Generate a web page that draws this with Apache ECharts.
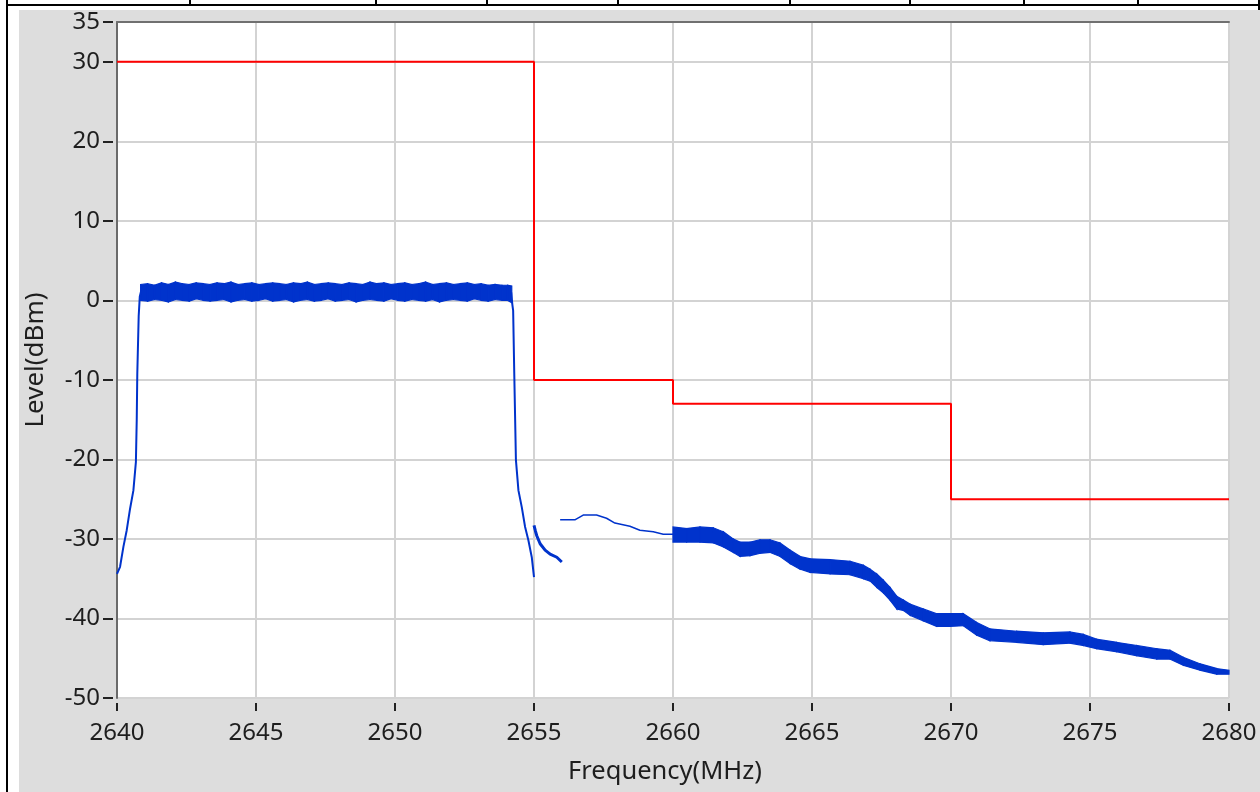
<!DOCTYPE html>
<html><head><meta charset="utf-8">
<script src="https://cdn.jsdelivr.net/npm/echarts@6/dist/echarts.min.js"></script>
<style>
html,body{margin:0;padding:0;background:#fff;}
#wrap{position:relative;width:1260px;height:792px;overflow:hidden;background:#fff;}
#panel{position:absolute;left:19px;top:10px;width:1241px;height:782px;background:#dddddd;}
.bl{position:absolute;background:#000;}
#chart{position:absolute;left:0;top:0;width:1260px;height:792px;}
</style></head><body>
<div id="wrap">
<div id="panel"></div>
<div class="bl" style="left:6px;top:0;width:2px;height:792px"></div>
<div class="bl" style="left:6px;top:4px;width:1254px;height:2px"></div>
<div class="bl" style="left:189px;top:0;width:2px;height:5px"></div>
<div class="bl" style="left:375px;top:0;width:2px;height:5px"></div>
<div class="bl" style="left:486px;top:0;width:2px;height:5px"></div>
<div class="bl" style="left:617px;top:0;width:2px;height:5px"></div>
<div class="bl" style="left:789px;top:0;width:2px;height:5px"></div>
<div class="bl" style="left:909px;top:0;width:2px;height:5px"></div>
<div class="bl" style="left:1023px;top:0;width:2px;height:5px"></div>
<div class="bl" style="left:1137px;top:0;width:2px;height:5px"></div>
<div class="bl" style="left:1258px;top:0;width:2px;height:10px"></div>
<div id="chart"></div>
</div>
<script>
// Limit mask (red)
var maskFreq  = [2640, 2655, 2655, 2660, 2660, 2670, 2670, 2680];
var maskLevel = [30, 30, -10, -10, -13, -13, -25, -25];

// Spectrum: left rising edge
var rampFreq  = [2640.0, 2640.11, 2640.23, 2640.35, 2640.47, 2640.59, 2640.68, 2640.71, 2640.73, 2640.78, 2640.82, 2640.87];
var rampLevel = [-34.4, -33.5, -31.0, -28.9, -26.2, -23.9, -20.3, -15.0, -9.2, -2.0, 0.5, 1.2];

// Spectrum: in-band plateau (noise envelope)
var plateauFreq = [2640.85, 2641.1, 2641.35, 2641.6, 2641.85, 2642.1, 2642.35, 2642.6, 2642.85, 2643.1,
  2643.35, 2643.6, 2643.85, 2644.1, 2644.35, 2644.6, 2644.85, 2645.1, 2645.35, 2645.6,
  2645.85, 2646.1, 2646.35, 2646.6, 2646.85, 2647.1, 2647.35, 2647.6, 2647.85, 2648.1,
  2648.35, 2648.6, 2648.85, 2649.1, 2649.35, 2649.6, 2649.85, 2650.1, 2650.35, 2650.6,
  2650.85, 2651.1, 2651.35, 2651.6, 2651.85, 2652.1, 2652.35, 2652.6, 2652.85, 2653.1,
  2653.35, 2653.6, 2653.85, 2654.05, 2654.2];
var plateauHigh = [2.0, 2.1, 1.9, 2.2, 2.0, 2.3, 2.1, 2.0, 2.2, 2.1,
  2.0, 2.2, 2.1, 2.3, 2.0, 2.1, 2.2, 2.0, 2.1, 2.2,
  2.1, 2.0, 2.2, 2.1, 2.3, 2.0, 2.1, 2.2, 2.1, 2.0,
  2.2, 2.1, 2.0, 2.3, 2.1, 2.2, 2.0, 2.1, 2.2, 2.0,
  2.1, 2.3, 2.0, 2.1, 2.2, 2.0, 2.1, 2.2, 2.0, 2.1,
  1.9, 2.0, 1.9, 1.9, 1.8];
var plateauLow = [0.0, -0.1, 0.1, 0.0, -0.2, 0.1, 0.0, -0.1, 0.2, 0.0,
  -0.1, 0.0, 0.1, -0.2, 0.0, 0.1, -0.1, 0.0, 0.2, -0.1,
  0.0, 0.1, -0.2, 0.0, 0.1, -0.1, 0.0, 0.2, -0.1, 0.0,
  0.1, -0.2, 0.0, 0.1, 0.0, -0.1, 0.2, 0.0, -0.1, 0.1,
  0.0, -0.1, 0.1, -0.2, 0.0, 0.1, 0.0, -0.1, 0.2, 0.0,
  -0.1, 0.1, 0.0, 0.0, -0.3];

// Spectrum: right falling edge
var dropFreq  = [2654.18, 2654.22, 2654.25, 2654.29, 2654.35, 2654.44, 2654.56, 2654.68, 2654.80, 2654.92, 2655.0];
var dropLevel = [1.0, -0.5, -1.3, -9.2, -20.1, -23.9, -26.0, -28.5, -30.2, -32.3, -34.8];

// Spectrum: 2655-2656 segment
var seg2Freq  = [2655.0, 2655.05, 2655.10, 2655.22, 2655.40, 2655.58, 2655.82, 2656.0];
var seg2Level = [-28.3, -29.0, -29.6, -30.6, -31.4, -31.9, -32.3, -32.9];

// Spectrum: 2656-2660 segment
var seg3Freq  = [2655.94, 2656.47, 2656.77, 2657.25, 2657.61, 2657.91, 2658.45, 2658.81, 2659.29, 2659.65, 2660.0];
var seg3Level = [-27.6, -27.6, -27.0, -27.0, -27.4, -28.0, -28.4, -28.9, -29.1, -29.4, -29.4];

// Spectrum: 2660-2680 band (envelope)
var bandFreq = [2660.0, 2660.49, 2660.97, 2661.45, 2661.81, 2662.17, 2662.41, 2662.77, 2663.13, 2663.49,
  2663.85, 2664.21, 2664.57, 2664.93, 2665.65, 2666.37, 2666.85, 2667.09, 2667.33, 2667.57,
  2667.81, 2668.05, 2668.29, 2668.53, 2669.0, 2669.48, 2669.96, 2670.44, 2670.92, 2671.40,
  2672.36, 2673.32, 2674.28, 2674.76, 2675.24, 2675.96, 2676.68, 2677.40, 2677.88, 2678.36,
  2678.96, 2679.56, 2680.0];
var bandHigh = [-28.5, -28.7, -28.5, -28.6, -29.1, -30.0, -30.4, -30.4, -30.1, -30.1,
  -30.5, -31.4, -32.2, -32.5, -32.6, -32.8, -33.3, -33.8, -34.4, -35.2,
  -36.1, -37.2, -37.7, -38.2, -38.8, -39.4, -39.4, -39.4, -40.5, -41.3,
  -41.6, -41.8, -41.7, -42.0, -42.6, -43.0, -43.4, -43.8, -44.0, -44.9,
  -45.7, -46.3, -46.5];
var bandLow = [-30.4, -30.4, -30.4, -30.5, -31.0, -31.7, -32.2, -32.1, -31.8, -31.7,
  -32.2, -33.1, -33.8, -34.2, -34.4, -34.5, -35.0, -35.3, -36.1, -36.8,
  -37.7, -38.8, -39.0, -39.6, -40.3, -41.0, -41.0, -40.9, -42.1, -42.8,
  -43.0, -43.3, -43.1, -43.4, -43.8, -44.2, -44.7, -45.1, -45.1, -45.9,
  -46.5, -47.0, -47.0];

var xMin = 2640, xMax = 2680, xStep = 5;
var yMin = -50, yMax = 35, yStep = 10;

var BLUE = '#0033cc';
var FONT = 'Noto Sans';
var TXT = '#1e1e1e';

function zip(a, b) { return a.map(function (v, i) { return [v, b[i]]; }); }
// segments of an envelope: [f1, lo1, hi1, f2, lo2, hi2]
function segs(f, lo, hi) {
  var out = [];
  for (var i = 0; i < f.length - 1; i++) out.push([f[i], lo[i], hi[i], f[i + 1], lo[i + 1], hi[i + 1]]);
  return out;
}
function renderBand(params, api) {
  var a = api.coord([api.value(0), api.value(1)]);
  var b = api.coord([api.value(0), api.value(2)]);
  var c = api.coord([api.value(3), api.value(5)]);
  var d = api.coord([api.value(3), api.value(4)]);
  return { type: 'polygon', shape: { points: [a, b, c, d] },
    style: { fill: BLUE, stroke: BLUE, lineWidth: 1.2 } };
}
function band(f, lo, hi) {
  return { type: 'custom', renderItem: renderBand, data: segs(f, lo, hi),
    encode: { x: [0, 3], y: [1, 2, 4, 5] }, z: 3, silent: true };
}
function thin(data, w) {
  return { type: 'line', data: data, symbol: 'none', showSymbol: false,
    lineStyle: { color: BLUE, width: w }, z: 3 };
}
var numFmt = function (v) { return String(v); };

var chart = echarts.init(document.getElementById('chart'), null, { renderer: 'canvas' });
chart.setOption({
  animation: false,
  backgroundColor: 'transparent',
  grid: { left: 117, right: 31, top: 22, bottom: 94, show: true, backgroundColor: '#ffffff', borderWidth: 0 },
  xAxis: [{
    type: 'value', min: xMin, max: xMax, interval: xStep, offset: 5,
    axisLine: { show: false, onZero: false },
    axisTick: { show: true, length: 8, lineStyle: { color: '#222', width: 2 } },
    axisLabel: { fontSize: 24, color: TXT, fontFamily: FONT, margin: 18, formatter: numFmt },
    splitLine: { show: true, lineStyle: { color: '#d3d3d3', width: 2 } },
    name: 'Frequency(MHz)', nameLocation: 'middle', nameGap: 56,
    nameTextStyle: { fontSize: 25.5, color: TXT, fontFamily: FONT, padding: [0, 16, 0, 0] }
  }, {
    type: 'value', min: xMin, max: xMax, position: 'top',
    axisLine: { show: true, onZero: false, lineStyle: { color: '#707070', width: 2 } },
    axisTick: { show: false }, axisLabel: { show: false }, splitLine: { show: false }
  }],
  yAxis: [{
    type: 'value', min: yMin, max: yMax, interval: yStep, offset: 4,
    axisLine: { show: false, onZero: false },
    axisTick: { show: true, length: 10, lineStyle: { color: '#222', width: 2 } },
    axisLabel: { fontSize: 24, color: TXT, fontFamily: FONT, margin: 13, formatter: numFmt },
    splitLine: { show: true, lineStyle: { color: '#d3d3d3', width: 2 } },
    name: 'Level(dBm)', nameLocation: 'middle', nameGap: 64,
    nameTextStyle: { fontSize: 26, color: TXT, fontFamily: FONT }
  }, {
    type: 'value', min: yMin, max: yMax, position: 'left', offset: 0,
    axisLine: { show: true, onZero: false, lineStyle: { color: '#6a6a6a', width: 2 } },
    axisTick: { show: false }, axisLabel: { show: false }, splitLine: { show: false }
  }],
  series: [
    band(plateauFreq, plateauLow, plateauHigh),
    band(bandFreq, bandLow, bandHigh),
    thin(zip(rampFreq, rampLevel), 2),
    thin(zip(dropFreq, dropLevel), 2),
    thin(zip(seg2Freq, seg2Level), 3),
    thin(zip(seg3Freq, seg3Level), 1.5),
    { type: 'line', data: zip(maskFreq, maskLevel), symbol: 'none', showSymbol: false,
      lineStyle: { color: '#ff0000', width: 2 }, z: 4 }
  ]
});
</script>
</body></html>
